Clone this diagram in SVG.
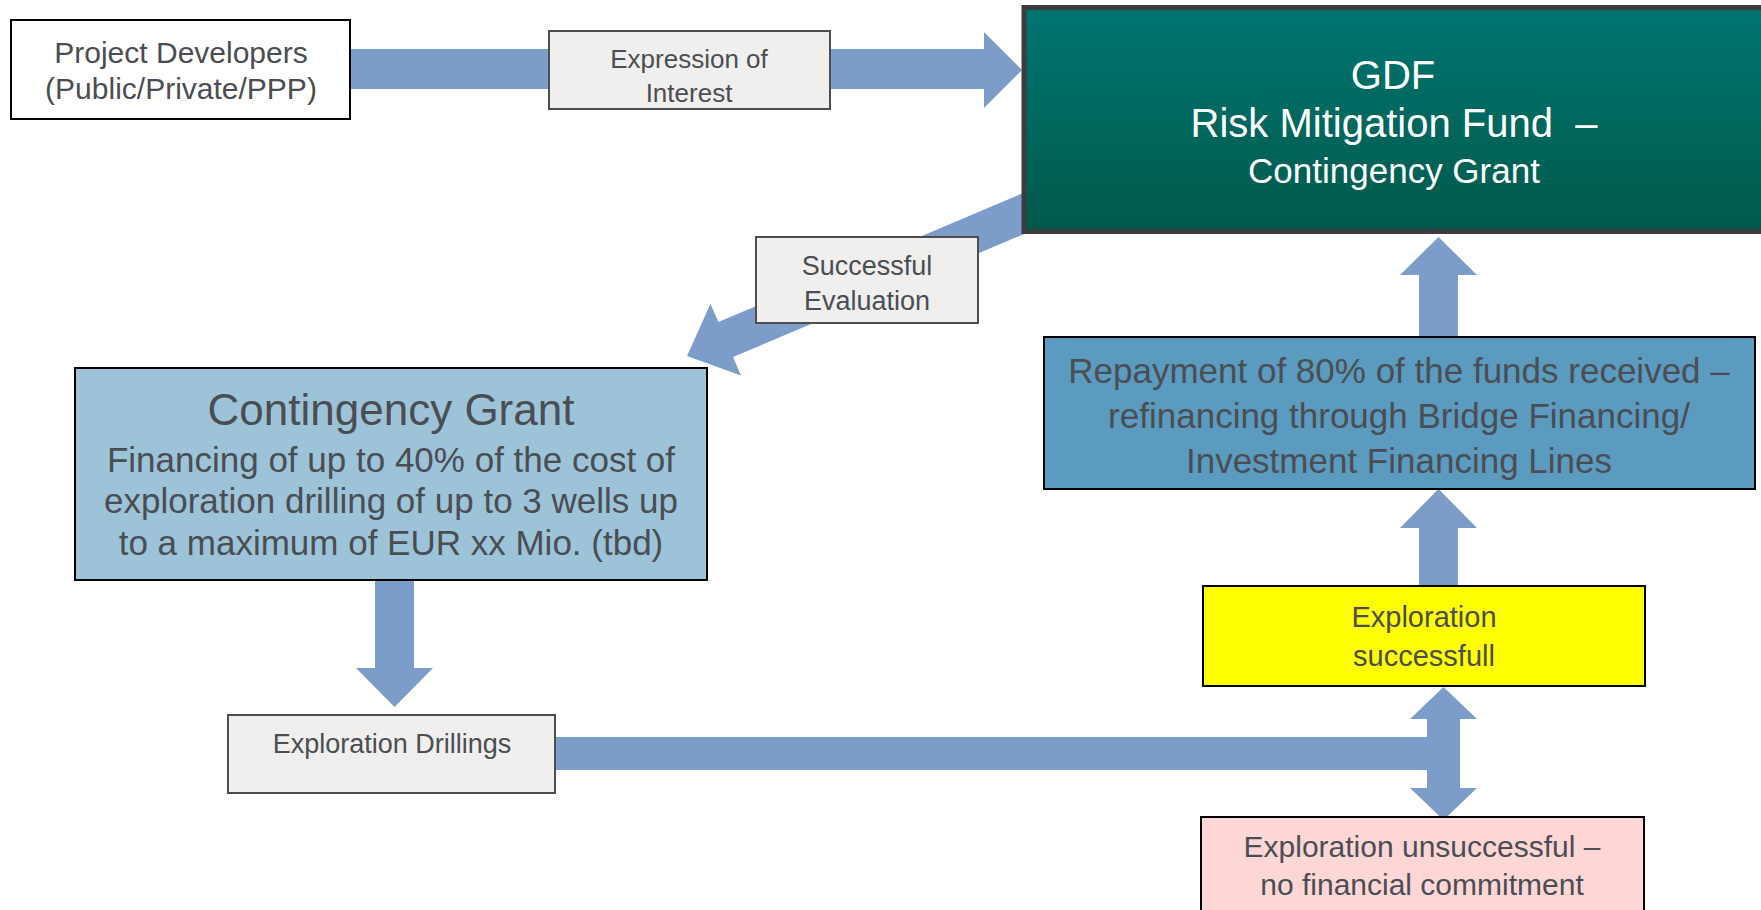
<svg xmlns="http://www.w3.org/2000/svg" width="1761" height="910" viewBox="0 0 1761 910">
<defs>
<linearGradient id="gdfGrad" x1="0" y1="0" x2="0" y2="1">
<stop offset="0" stop-color="#007571"/>
<stop offset="1" stop-color="#005a4b"/>
</linearGradient>
<style>
text{font-family:"Liberation Sans",Arial,sans-serif;fill:#4a4e53;text-anchor:middle}
.arrow{fill:#7c9cc9;stroke:none}
.lbl{fill:#f0efee;stroke:#4e4e4e;stroke-width:2}
.box{stroke:#000;stroke-width:2}
.w{fill:#fff}
</style>
</defs>
<rect width="1761" height="910" fill="#fff"/>
<g id="connectors">
<polygon class="arrow" points="350,49 984,49 984,32 1022,70 984,108 984,89 350,89"/>
<polygon class="arrow" points="1032.6,189.1 718.3,322.1 710.5,303.7 687,356 740.9,375.5 733.1,357.1 1047.4,224.1"/>
<polygon class="arrow" points="375,580 414,580 414,668 433,668 394.5,707 356,668 375,668"/>
<polygon class="arrow" points="555,737 1427,737 1427,719 1410,719 1443.5,687 1477,719 1460,719 1460,788 1477,788 1443.5,820 1410,788 1427,788 1427,770 555,770"/>
<polygon class="arrow" points="1419,586 1458,586 1458,528 1477,528 1438.5,489 1400,528 1419,528"/>
<polygon class="arrow" points="1419,337 1458,337 1458,275 1477,275 1438.5,237 1400,275 1419,275"/>
</g>
<g id="project-developers">
<rect class="box" x="11" y="20" width="339" height="99" fill="#fff"/>
<text x="181" y="63" font-size="30">Project Developers</text>
<text x="181" y="99" font-size="30">(Public/Private/PPP)</text>
</g>
<g id="expression-of-interest">
<rect class="lbl" x="549" y="31" width="281" height="78"/>
<text x="689" y="68" font-size="26">Expression of</text>
<text x="689" y="102" font-size="26">Interest</text>
</g>
<g id="gdf">
<rect x="1024" y="7.5" width="800" height="224" fill="url(#gdfGrad)" stroke="#3a3c40" stroke-width="5"/>
<text class="w" x="1393" y="89" font-size="40">GDF</text>
<text class="w" x="1394" y="137" font-size="40" xml:space="preserve">Risk Mitigation Fund  –</text>
<text class="w" x="1394" y="183" font-size="35">Contingency Grant</text>
</g>
<g id="successful-evaluation">
<rect class="lbl" x="756" y="237" width="222" height="86"/>
<text x="867" y="275" font-size="27">Successful</text>
<text x="867" y="310" font-size="27">Evaluation</text>
</g>
<g id="contingency-grant">
<rect class="box" x="75" y="368" width="632" height="212" fill="#9dc3d9"/>
<text x="391" y="425" font-size="44">Contingency Grant</text>
<text x="391" y="472" font-size="35">Financing of up to 40% of the cost of</text>
<text x="391" y="513" font-size="35">exploration drilling of up to 3 wells up</text>
<text x="391" y="555" font-size="35">to a maximum of EUR xx Mio. (tbd)</text>
</g>
<g id="exploration-drillings">
<rect class="lbl" x="228" y="715" width="327" height="78"/>
<text x="392" y="753" font-size="27">Exploration Drillings</text>
</g>
<g id="repayment">
<rect class="box" x="1044" y="337" width="711" height="152" fill="#5b9bc0"/>
<text x="1399" y="383" font-size="35">Repayment of 80% of the funds received –</text>
<text x="1399" y="428" font-size="35">refinancing through Bridge Financing/</text>
<text x="1399" y="473" font-size="35">Investment Financing Lines</text>
</g>
<g id="exploration-successful">
<rect class="box" x="1203" y="586" width="442" height="100" fill="#ffff00"/>
<text x="1424" y="627" font-size="29">Exploration</text>
<text x="1424" y="666" font-size="29">successfull</text>
</g>
<g id="exploration-unsuccessful">
<rect class="box" x="1201" y="817" width="443" height="110" fill="#ffd6d6"/>
<text x="1422" y="857" font-size="30">Exploration unsuccessful –</text>
<text x="1422" y="895" font-size="30">no financial commitment</text>
</g>
</svg>
